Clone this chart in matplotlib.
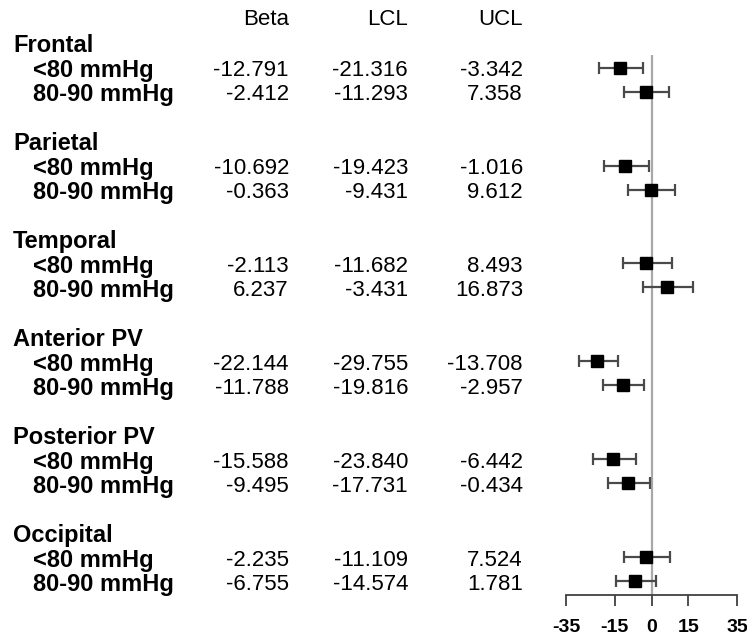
import matplotlib
matplotlib.use("Agg")
import matplotlib.pyplot as plt
import matplotlib.transforms as mtransforms

plt.rcParams['font.family'] = ['Liberation Sans', 'DejaVu Sans']

groups = ["Frontal", "Parietal", "Temporal", "Anterior PV", "Posterior PV", "Occipital"]
levels = ["<80 mmHg", "80-90 mmHg"]
beta = [-12.791, -2.412, -10.692, -0.363, -2.113, 6.237,
        -22.144, -11.788, -15.588, -9.495, -2.235, -6.755]
lcl = [-21.316, -11.293, -19.423, -9.431, -11.682, -3.431,
       -29.755, -19.816, -23.840, -17.731, -11.109, -14.574]
ucl = [-3.342, 7.358, -1.016, 9.612, 8.493, 16.873,
       -13.708, -2.957, -6.442, -0.434, 7.524, 1.781]
xticks = [-35, -15, 0, 15, 35]

W, H = 747, 643
fig = plt.figure(figsize=(W / 100, H / 100), dpi=100)
ax = fig.add_axes([566 / W, 1 - 595 / H, (737 - 566) / W, (595 - 55) / H])

# layout: y in pixel-like units, top down
step = 97.9
ypos = []
for g in range(len(groups)):
    for k in range(len(levels)):
        ypos.append(67.7 + step * g + 24 * k)

err_lo = [b - l for b, l in zip(beta, lcl)]
err_hi = [u - b for b, u in zip(beta, ucl)]
ax.axvline(0, color="#a8a8a8", lw=1.6, zorder=1)
ax.errorbar(beta, ypos, xerr=[err_lo, err_hi], fmt="s", color="black",
            ms=8.5, ecolor="#4a4a4a", elinewidth=1.6, capsize=4, capthick=1.6,
            zorder=3)

ax.set_xlim(-35, 35)
ax.set_ylim(595, 55)
for s in ["top", "right", "left"]:
    ax.spines[s].set_visible(False)
ax.spines["bottom"].set_color("#404040")
ax.spines["bottom"].set_linewidth(1.3)
ax.set_yticks([])
ax.set_xticks(xticks)
ax.set_xticklabels([str(t) for t in xticks], fontsize=14, fontweight="bold")
ax.tick_params(axis="x", direction="out", length=8, width=1.3, color="#404040", pad=9)

trans = mtransforms.blended_transform_factory(fig.transFigure, ax.transData)
cols = [289 / W, 408 / W, 523 / W]
fs = 16
for x, h in zip(cols, ["Beta", "LCL", "UCL"]):
    ax.text(x, 20, h, transform=trans, ha="right", va="center", fontsize=fs)

i = 0
for g, name in enumerate(groups):
    ax.text(13 / W, 67.7 + step * g - 21.7, name, transform=trans, ha="left",
            va="center", fontsize=17, fontweight="bold")
    for lev in levels:
        y = ypos[i] + 3
        ax.text(33 / W, y, lev, transform=trans, ha="left", va="center",
                fontsize=17, fontweight="bold")
        for x, v in zip(cols, [beta[i], lcl[i], ucl[i]]):
            ax.text(x, y, f"{v:.3f}", transform=trans, ha="right", va="center",
                    fontsize=fs)
        i += 1

fig.savefig("out.png", dpi=100)
